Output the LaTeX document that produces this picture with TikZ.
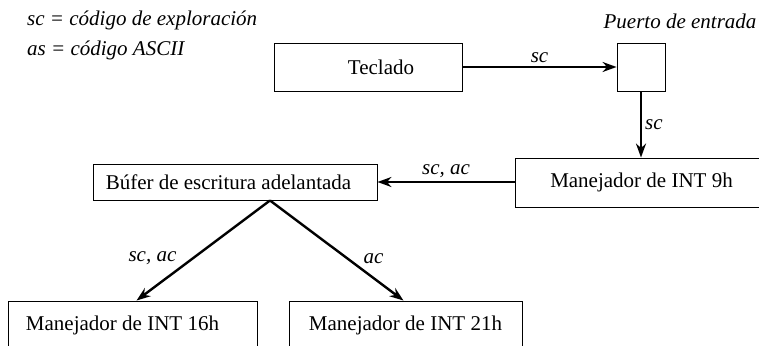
\documentclass[tikz,border=0pt]{standalone}
\usepackage{fontspec}
\setmainfont{LiberationSerif}[Extension=.ttf,UprightFont=*-Regular,ItalicFont=*-Italic,BoldFont=*-Bold]
\usetikzlibrary{arrows.meta,positioning}

\begin{document}
\begin{tikzpicture}[x=1pt,y=-1pt,>={Stealth[length=14pt,width=10pt]},
  box/.style={draw,line width=0.9pt,inner sep=0pt,font=\fontsize{21}{25}\selectfont},
  flow/.style={->,line width=2.4pt},
  lbl/.style={font=\fontsize{21}{25}\selectfont\itshape,inner sep=3pt}]
\useasboundingbox (0,0) rectangle (759,345);
\node[lbl,anchor=west] (legsc) at (24,20) {sc = código de exploración};
\node[lbl,anchor=west] (legas) at (24,50) {as = código ASCII};
\node[box,minimum width=188pt,minimum height=48pt] (kbd) at (368,67) {\hspace*{26pt}Teclado};
\node[box,minimum width=48pt,minimum height=48pt] (port) at (641,67) {};
\node[lbl] (portlbl) at (680,21) {Puerto de entrada};
\node[box,minimum width=253pt,minimum height=49pt] (m9) at (641.5,182.5) {Manejador de INT 9h};
\node[box,minimum width=284pt,minimum height=36pt] (buf) at (235,182) {Búfer de escritura adelantada\hspace*{13pt}};
\node[box,minimum width=249pt,minimum height=49pt] (m16) at (132.5,325.5) {Manejador de INT 16h\hspace*{20pt}};
\node[box,minimum width=233pt,minimum height=49pt] (m21) at (405.5,325.5) {Manejador de INT 21h};
\draw[flow] (kbd) -- node[lbl,above]{sc} (port);
\draw[flow] (port.south) -- node[lbl,right]{sc} (port.south |- m9.north);
\draw[flow] (m9.west |- buf.east) -- node[lbl,above]{sc, ac} (buf.east);
\draw[flow] ([xshift=35pt]buf.south) -- node[lbl,pos=0.58,left=12pt]{sc, ac} ([xshift=4pt]m16.north);
\draw[flow] ([xshift=35pt]buf.south) -- node[lbl,pos=0.58,right=12pt]{ac} ([xshift=-2pt]m21.north);
\end{tikzpicture}
\end{document}
